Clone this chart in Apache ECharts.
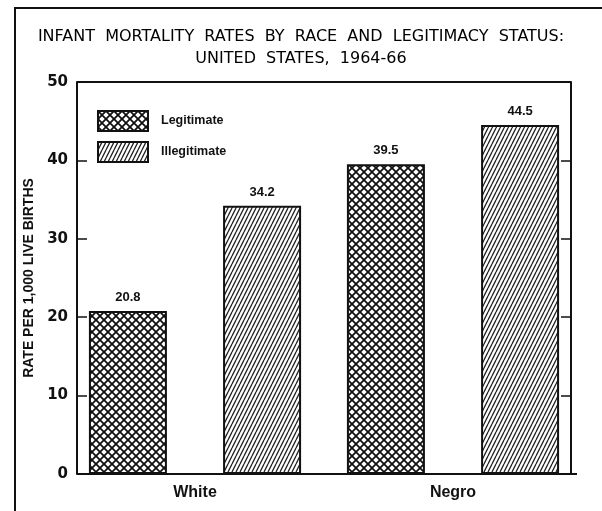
<!DOCTYPE html>
<html>
<head>
<meta charset="utf-8">
<script src="https://cdn.jsdelivr.net/npm/echarts@6/dist/echarts.min.js"></script>
<style>
html,body{margin:0;padding:0;background:#fff;}
#chart{width:602px;height:511px;}
</style>
</head>
<body>
<div id="chart"></div>
<script>
// ---- data ----
const categories = ['White', 'Negro'];
const seriesNames = ['Legitimate', 'Illegitimate'];
const legitimateValues = [20.8, 39.5];
const illegitimateValues = [34.2, 44.5];
const yTicks = [0, 10, 20, 30, 40, 50];
const titleLines = ['INFANT  MORTALITY  RATES  BY  RACE  AND  LEGITIMACY  STATUS:', 'UNITED  STATES,  1964-66'];
const yAxisTitle = 'RATE PER 1,000 LIVE BIRTHS';

// ---- patterns ----
function crossPattern() {
  const c = document.createElement('canvas');
  c.width = 8; c.height = 8;
  const x = c.getContext('2d');
  x.fillStyle = '#fff'; x.fillRect(0, 0, 8, 8);
  x.strokeStyle = '#111'; x.lineWidth = 1.8;
  x.beginPath();
  x.moveTo(-1, -1); x.lineTo(9, 9);
  x.moveTo(-1, 9); x.lineTo(9, -1);
  x.stroke();
  return c;
}
function hatchPattern() {
  const c = document.createElement('canvas');
  c.width = 4; c.height = 8;
  const x = c.getContext('2d');
  x.fillStyle = '#fff'; x.fillRect(0, 0, 4, 8);
  x.strokeStyle = '#222'; x.lineWidth = 1.3;
  x.beginPath();
  x.moveTo(0, 8); x.lineTo(4, 0);
  x.moveTo(-4, 8); x.lineTo(0, 0);
  x.moveTo(4, 8); x.lineTo(8, 0);
  x.stroke();
  return c;
}
const crossFill = { image: crossPattern(), repeat: 'repeat' };
const hatchFill = { image: hatchPattern(), repeat: 'repeat' };

const chart = echarts.init(document.getElementById('chart'), null, { renderer: 'canvas' });

const yMin = yTicks[0], yMax = yTicks[yTicks.length - 1], yStep = yTicks[1] - yTicks[0];

const labelStyle = {
  show: true, position: 'top', distance: 7,
  fontFamily: 'Liberation Sans', fontWeight: 'bold', fontSize: 13, color: '#111'
};

const option = {
  animation: false,
  backgroundColor: '#fff',
  title: {
    text: titleLines.join('\n'),
    left: 'center', top: 21,
    textStyle: { fontFamily: 'DejaVu Sans', fontWeight: 'normal', fontSize: 16, color: '#000', lineHeight: 22 }
  },
  legend: {
    data: seriesNames,
    orient: 'vertical',
    left: 92, top: 105,
    itemWidth: 50, itemHeight: 20, itemGap: 9,
    icon: 'rect',
    itemStyle: { borderColor: '#111', borderWidth: 2 },
    textStyle: { fontFamily: 'Liberation Sans', fontWeight: 'bold', fontSize: 12.5, color: '#111', padding: [0, 0, 0, 8] }
  },
  grid: { left: 66, right: 20, top: 82, bottom: 37, containLabel: false },
  xAxis: {
    type: 'category',
    data: categories,
    axisLine: { show: false },
    axisTick: { show: false },
    axisLabel: { margin: 11, fontFamily: 'Liberation Sans', fontWeight: 'bold', fontSize: 16, color: '#111' }
  },
  yAxis: [
    {
      type: 'value', min: yMin, max: yMax, interval: yStep,
      position: 'left', offset: -11,
      name: yAxisTitle, nameLocation: 'middle', nameRotate: 90, nameGap: 40,
      nameTextStyle: { fontFamily: 'Liberation Sans', fontWeight: 'bold', fontSize: 14, color: '#111' },
      axisLine: { show: true, lineStyle: { color: '#111', width: 2 } },
      axisTick: { show: true, inside: true, length: 10, lineStyle: { color: '#111', width: 1.5 } },
      axisLabel: { margin: 9, fontFamily: 'DejaVu Sans', fontWeight: 'bold', fontSize: 15, color: '#111' },
      splitLine: { show: false }
    },
    {
      type: 'value', min: yMin, max: yMax, interval: yStep,
      position: 'right', offset: -11,
      axisLine: { show: true, lineStyle: { color: '#111', width: 2 } },
      axisTick: { show: true, inside: true, length: 10, lineStyle: { color: '#111', width: 1.5 } },
      axisLabel: { show: false },
      splitLine: { show: false }
    }
  ],
  series: [
    {
      name: seriesNames[0], type: 'bar', data: legitimateValues,
      barWidth: 78, barGap: '72%',
      itemStyle: { color: crossFill, borderColor: '#111', borderWidth: 2 },
      label: labelStyle
    },
    {
      name: seriesNames[1], type: 'bar', data: illegitimateValues,
      barWidth: 78, barGap: '72%',
      itemStyle: { color: hatchFill, borderColor: '#111', borderWidth: 2 },
      label: labelStyle
    }
  ],
  graphic: [
    { type: 'polyline', shape: { points: [[15, 511], [15, 8], [602, 8]] }, style: { stroke: '#111', lineWidth: 2, fill: null }, silent: true },
    { type: 'line', shape: { x1: 77, y1: 82, x2: 571, y2: 82 }, style: { stroke: '#111', lineWidth: 2 }, silent: true },
    { type: 'line', shape: { x1: 77, y1: 474, x2: 577, y2: 474 }, style: { stroke: '#111', lineWidth: 2 }, silent: true }
  ]
};
chart.setOption(option);
</script>
</body>
</html>
